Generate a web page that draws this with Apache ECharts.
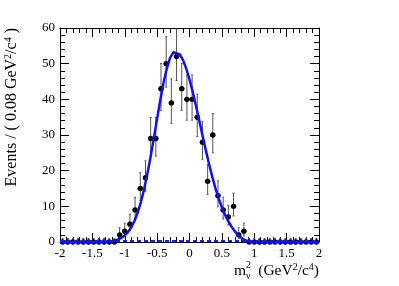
<!DOCTYPE html>
<html>
<head>
<meta charset="utf-8">
<script src="https://cdn.jsdelivr.net/npm/echarts@6/dist/echarts.min.js"></script>
<style>
html,body{margin:0;padding:0;background:#fff;}
#c{width:399px;height:286px;}
</style>
</head>
<body>
<div id="c"></div>
<script>
// Histogram: 50 bins of width 0.08 from -2 to 2
const binLow = -2;
const binWidth = 0.08;
const counts = [
  0,0,0,0,0,0,0,0,0,0,0,
  2,3,5,9,15,18,29,29,43,50,39,52,43,40,40,35,28,17,30,13,9,7,10,2,3,
  0,0,0,0,0,0,0,0,0,0,0,0,0,0
];
// Fit curve
const fitX = [-2,-1.4,-1.35,-1.3,-1.25,-1.2,-1.15,-1.1,-1.05,-1.0,-0.95,-0.9,-0.85,-0.8,-0.75,-0.7,-0.65,-0.6,-0.55,-0.5,-0.45,-0.4,-0.35,-0.3,-0.25,-0.22,-0.15,-0.1,-0.05,0.0,0.05,0.1,0.15,0.2,0.25,0.3,0.35,0.4,0.45,0.5,0.55,0.6,0.65,0.7,0.75,0.8,0.85,0.9,0.95,1.0,1.05,2];
const fitY = [0,0.02,0.04,0.08,0.15,0.26,0.44,0.73,1.17,1.82,2.77,4.1,5.9,8.26,11.2,14.9,19.2,24.0,29.2,34.6,39.9,44.7,48.7,51.6,53.2,53.5,52.6,51.0,48.6,45.6,42.1,38.2,34.1,29.9,25.9,22.0,18.4,15.1,12.2,9.7,7.6,5.8,4.3,3.0,2.0,1.2,0.6,0.25,0.1,0.03,0,0];
// Background component (flat, dashed)
const bkgX = [-2, 2];
const bkgY = [0.3, 0.3];
const xTicks = [-2,-1.5,-1,-0.5,0,0.5,1,1.5,2];
const yTicks = [0,10,20,30,40,50,60];

const centers = counts.map((c,i)=> +(binLow + binWidth*(i+0.5)).toFixed(2));
const pts = counts.map((n,i)=>{
  const s = Math.sqrt(n+0.25);
  const lo = n>0 ? n-(s-0.5) : 0;
  const hi = n+(s+0.5);
  return [centers[i], n, lo, hi];
});

const chart = echarts.init(document.getElementById('c'), null, {renderer:'canvas'});
const serif = 'Liberation Serif, Times New Roman, serif';
const axisCommon = {
  axisLine:{show:true,onZero:false,lineStyle:{color:'#000',width:1}},
  axisTick:{show:true,inside:true,length:9,lineStyle:{color:'#000',width:1}},
  minorTick:{show:true,splitNumber:5,length:5,lineStyle:{color:'#000',width:1}},
  splitLine:{show:false},
  minorSplitLine:{show:false}
};
chart.setOption({
  animation:false,
  backgroundColor:'#fff',
  grid:{left:60,right:80,top:28,bottom:44,containLabel:false},
  xAxis:[
    Object.assign({type:'value',min:xTicks[0],max:xTicks[xTicks.length-1],interval:0.5,position:'bottom',
      axisLabel:{show:true,color:'#000',fontFamily:serif,fontSize:13,margin:5,
        formatter:v=>String(v)}}, axisCommon),
    Object.assign({type:'value',min:xTicks[0],max:xTicks[xTicks.length-1],interval:0.5,position:'top',
      axisLabel:{show:false}}, axisCommon)
  ],
  yAxis:[
    Object.assign({type:'value',min:yTicks[0],max:yTicks[yTicks.length-1],interval:10,position:'left',
      axisLabel:{show:true,color:'#000',fontFamily:serif,fontSize:13,margin:5}}, axisCommon),
    Object.assign({type:'value',min:yTicks[0],max:yTicks[yTicks.length-1],interval:10,position:'right',
      axisLabel:{show:false}}, axisCommon)
  ],
  series:[
    {
      type:'custom',
      xAxisIndex:0,yAxisIndex:0,
      z:2,
      clip:false,
      data:pts,
      renderItem:function(params,api){
        const x=api.value(0), y=api.value(1), lo=api.value(2), hi=api.value(3);
        const p=api.coord([x,y]);
        const pl=api.coord([x,lo]);
        const ph=api.coord([x,hi]);
        const xl=api.coord([x-binWidth/2,y]);
        const xr=api.coord([x+binWidth/2,y]);
        const children=[
          {type:'line',shape:{x1:p[0],y1:pl[1],x2:p[0],y2:ph[1]},style:{stroke:'#555',lineWidth:1}},
          {type:'line',shape:{x1:p[0]-1,y1:ph[1],x2:p[0]+1,y2:ph[1]},style:{stroke:'#555',lineWidth:1}},
          {type:'line',shape:{x1:xl[0],y1:p[1],x2:xr[0],y2:p[1]},style:{stroke:'#000',lineWidth:1.2}},
          {type:'circle',shape:{cx:p[0],cy:p[1],r:2.7},style:{fill:'#000'}}
        ];
        if(y>0){
          children.push({type:'line',shape:{x1:p[0]-1,y1:pl[1],x2:p[0]+1,y2:pl[1]},style:{stroke:'#555',lineWidth:1}});
        }
        return {type:'group',children:children};
      }
    },
    {
      type:'line',xAxisIndex:0,yAxisIndex:0,z:3,
      data:bkgX.map((x,i)=>[x,bkgY[i]]),
      showSymbol:false,
      lineStyle:{color:'#1a1aff',width:2,type:[4,3]}
    },
    {
      type:'line',xAxisIndex:0,yAxisIndex:0,z:4,
      data:fitX.map((x,i)=>[x,fitY[i]]),
      showSymbol:false,smooth:false,
      lineStyle:{color:'#1010ff',width:2.5,join:'round'}
    }
  ],
  graphic:[
    {
      type:'text',
      x:12,y:28,rotation:Math.PI/2,
      style:{
        text:'Events / ( 0.08 GeV{sup|2}/c{sup|4} )',
        align:'right',verticalAlign:'middle',
        font:'16px '+serif,fill:'#000',lineHeight:17,
        rich:{sup:{fontSize:10,fontFamily:serif,verticalAlign:'top',lineHeight:10,fill:'#000'}}
      }
    },
    {
      type:'text',x:234,y:271,
      style:{text:'m',align:'left',verticalAlign:'middle',font:'15.5px '+serif,fill:'#000'}
    },
    {
      type:'text',x:246,y:265,
      style:{text:'2',align:'left',verticalAlign:'middle',font:'10px '+serif,fill:'#000'}
    },
    {
      type:'text',x:246,y:276,
      style:{text:'ν',align:'left',verticalAlign:'middle',font:'10px '+serif,fill:'#000'}
    },
    {
      type:'text',x:319,y:271,
      style:{
        text:'(GeV{sup|2}/c{sup|4})',
        align:'right',verticalAlign:'middle',
        font:'15.5px '+serif,fill:'#000',lineHeight:17,
        rich:{sup:{fontSize:10,fontFamily:serif,verticalAlign:'top',lineHeight:10,fill:'#000'}}
      }
    }
  ]
});
</script>
</body>
</html>
